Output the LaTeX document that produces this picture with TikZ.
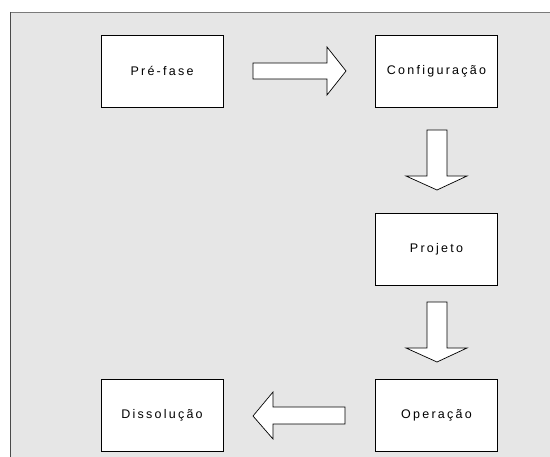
\documentclass[tikz,border=0pt]{standalone}
\usepackage{fontspec}
\setmainfont{Liberation Sans}[LetterSpace=18]
\usetikzlibrary{shapes.arrows}
\definecolor{panel}{HTML}{E6E6E6}
\definecolor{edgetop}{HTML}{7A7A7A}
\definecolor{edgeleft}{HTML}{4A4A4A}
\begin{document}
\begin{tikzpicture}[x=1pt,y=-1pt,
  phase/.style={draw=black,fill=white,line width=0.8pt,minimum width=122pt,minimum height=72pt,
    inner sep=0pt,font=\fontsize{12.5}{14}\selectfont},
  blockarrow/.style={draw=black,fill=white,line width=0.7pt,line join=miter}]
\useasboundingbox (0,0) rectangle (550,457);
% panel behind the flow
\fill[panel] (10,12) rectangle (552,459);
\draw[edgetop,line width=1pt] (10,12.5) -- (552,12.5);
\draw[edgeleft,line width=1.6pt] (10.3,12) -- (10.3,459);
% phases
\node[phase] (pre) at (162,71) {Pré-fase};
\node[phase] (conf) at (436.5,71) {Configuração};
\node[phase] (proj) at (436.5,249) {Projeto};
\node[phase] (oper) at (436.5,415) {Operação};
\node[phase] (diss) at (162,415) {Dissolução};
% block arrows between the phases
\draw[blockarrow] (253,63) -- (327,63) -- (327,47) -- (346,71) -- (327,95) -- (327,79) -- (253,79) -- cycle;
\draw[blockarrow] (427,130) -- (447,130) -- (447,176) -- (467,176) -- (437,190) -- (406,176) -- (427,176) -- cycle;
\draw[blockarrow] (427,302) -- (447,302) -- (447,348) -- (467,348) -- (437,362) -- (406,348) -- (427,348) -- cycle;
\draw[blockarrow] (345,407) -- (273,407) -- (273,392) -- (253,416) -- (273,439) -- (273,424) -- (345,424) -- cycle;
\end{tikzpicture}
\end{document}
